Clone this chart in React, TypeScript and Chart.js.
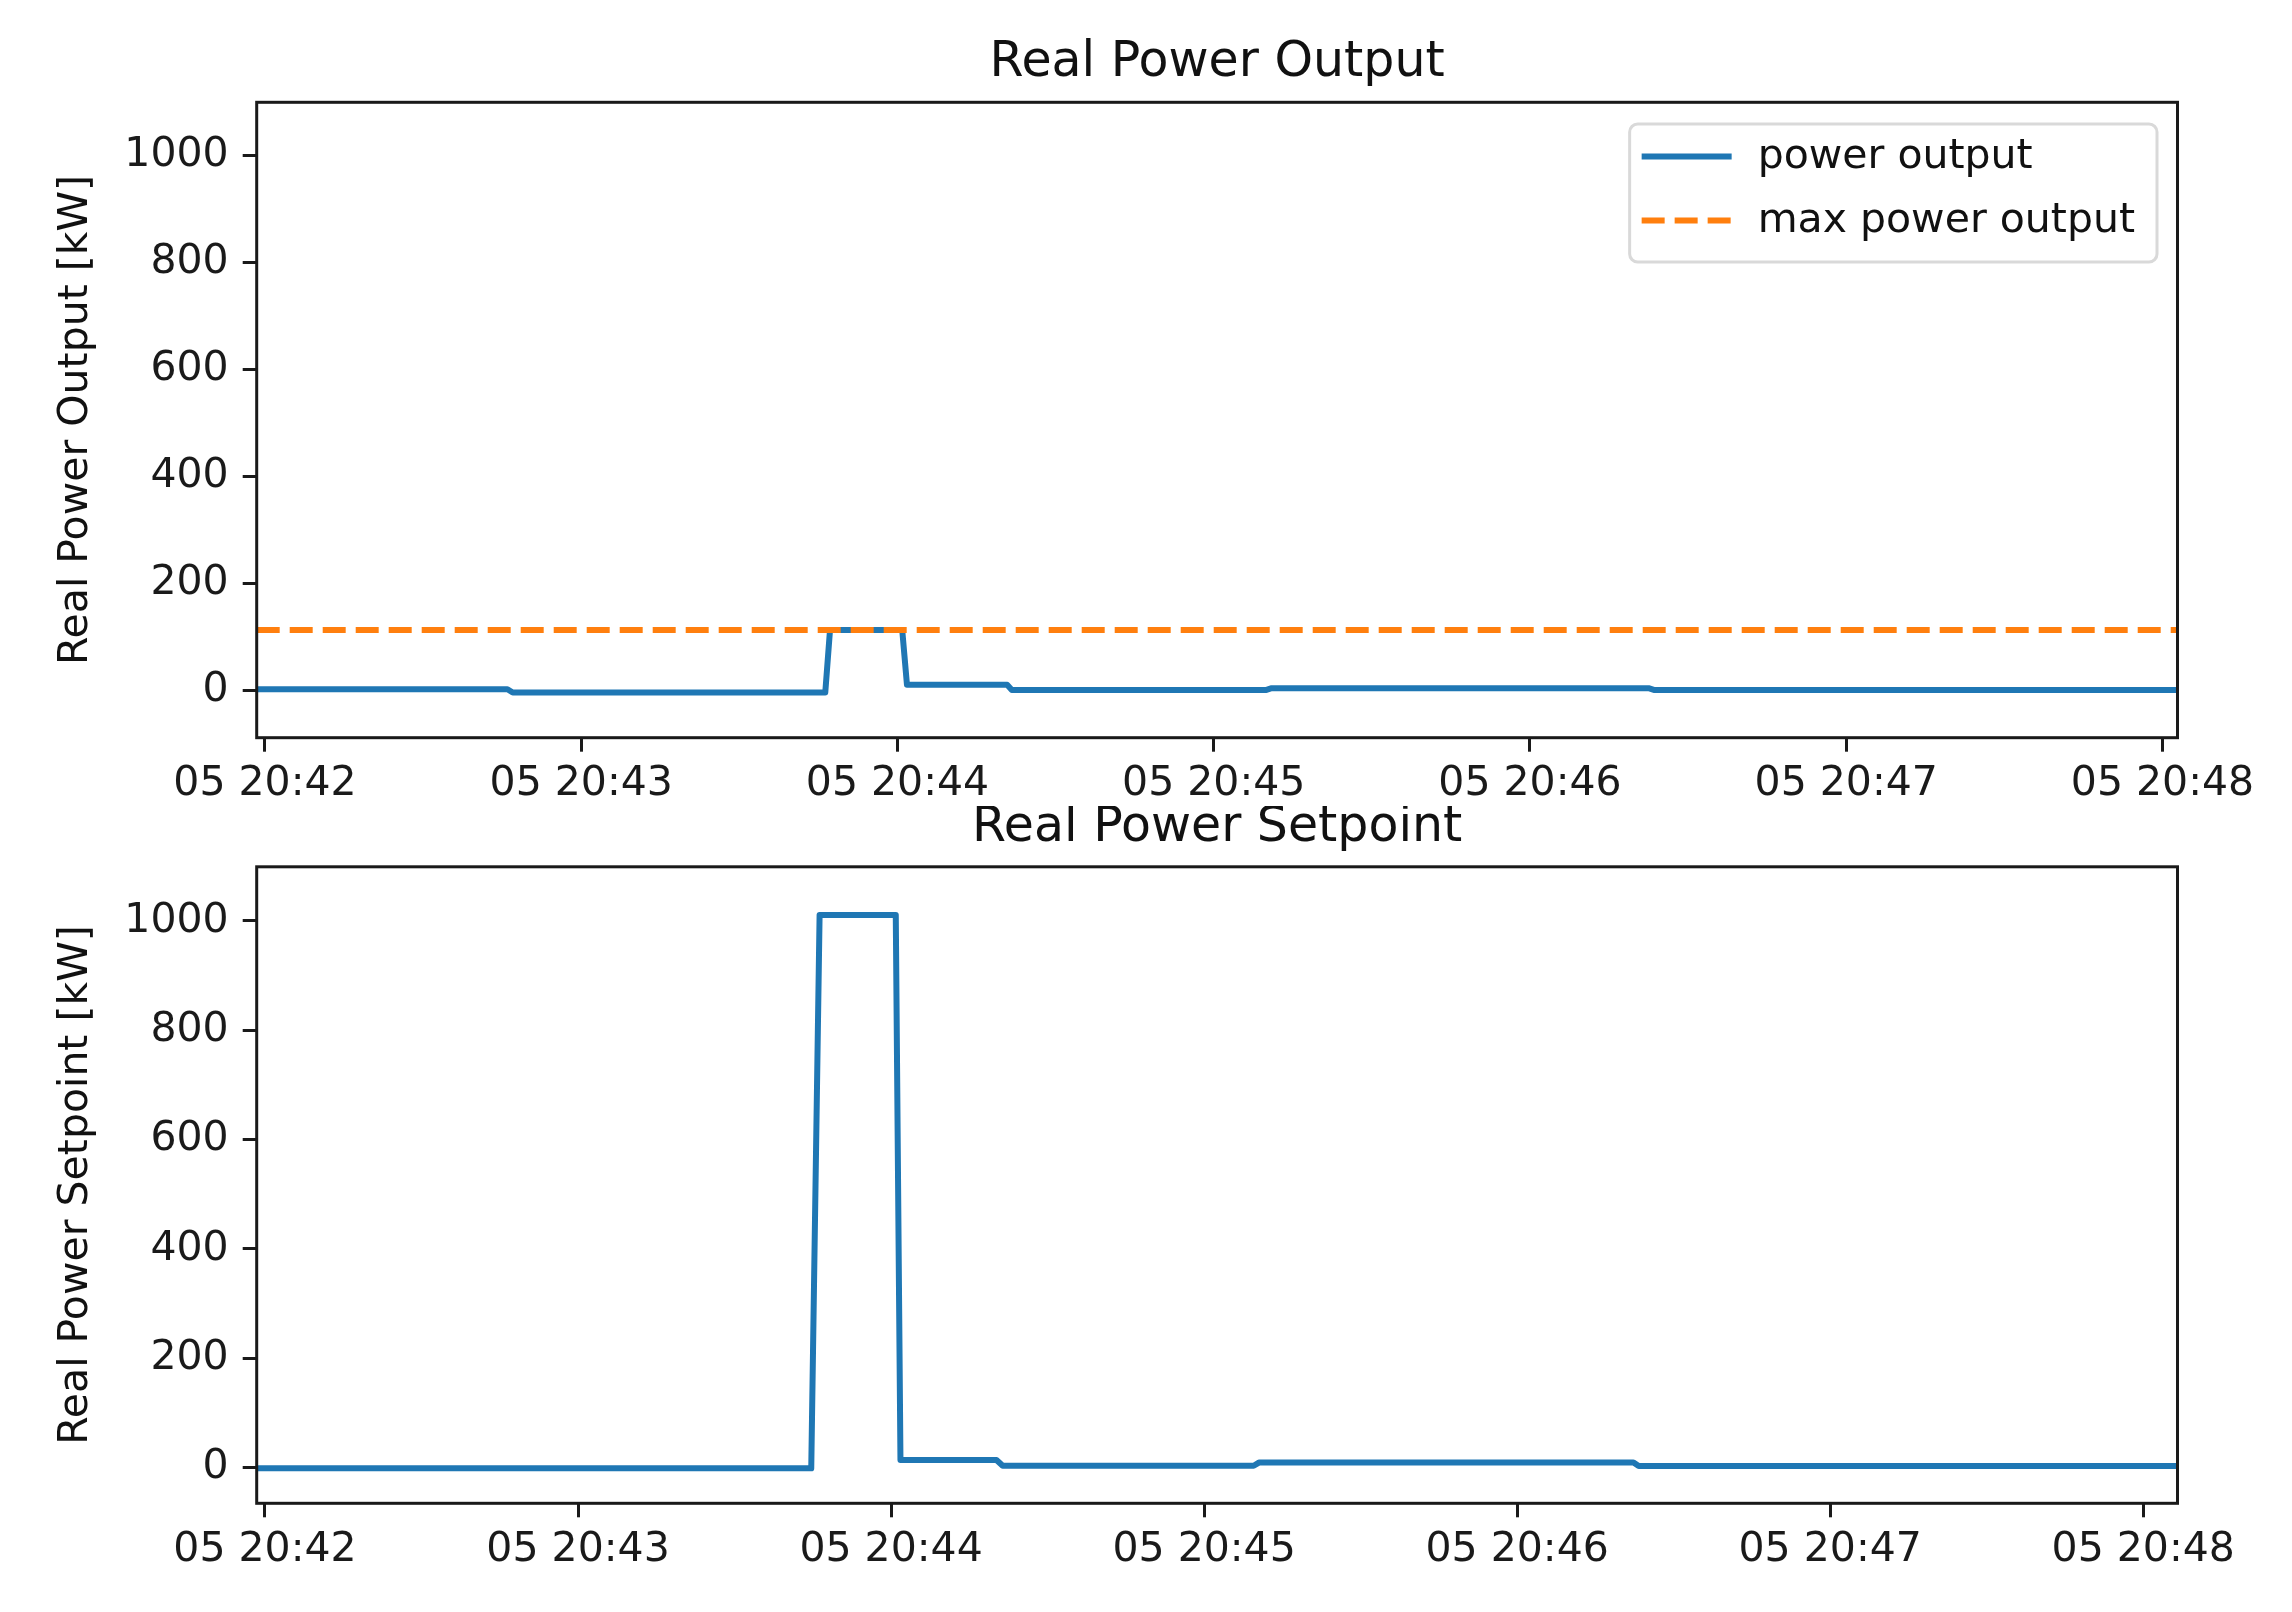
import React, { useEffect, useRef } from "react";
import { Chart, registerables } from "chart.js";

Chart.register(...registerables);

// ---- data ----
const xTickLabels = ["05 20:42", "05 20:43", "05 20:44", "05 20:45", "05 20:46", "05 20:47", "05 20:48"];
const yTickValues = [0, 200, 400, 600, 800, 1000];

const outputTimes = [
  "20:41:58.43", "20:42:46.0", "20:42:47.0", "20:43:46.3", "20:43:47.2", "20:44:00.9", "20:44:01.8",
  "20:44:20.8", "20:44:21.7", "20:45:10.0", "20:45:11.0", "20:46:22.5", "20:46:23.5", "20:48:02.85",
];
const outputValues = [2.6, 2.6, -3.5, -3.5, 113.5, 113.5, 11, 11, 1.3, 1.3, 4.5, 4.5, 1.3, 1.3];

const maxOutputTimes = ["20:41:58.43", "20:48:02.85"];
const maxOutputValues = [113.5, 113.5];

const setpointTimes = [
  "20:41:58.41", "20:43:44.7", "20:43:46.3", "20:44:00.9", "20:44:01.8", "20:44:20.2", "20:44:21.4",
  "20:45:09.5", "20:45:10.5", "20:46:22.3", "20:46:23.3", "20:48:06.57",
];
const setpointValues = [-1.6, -1.6, 1011, 1011, 13.7, 13.7, 3.2, 3.2, 9, 9, 2.7, 2.7];

// ---- helpers ----
const toSec = (t: string) => {
  const [h, m, s] = t.split(":").map(Number);
  return h * 3600 + m * 60 + s;
};
const base = toSec(xTickLabels[0].split(" ")[1] + ":00");
const tickSecs = xTickLabels.map((l) => toSec(l.split(" ")[1] + ":00") - base);
const pts = (times: string[], values: number[]) =>
  times.map((t, i) => ({ x: toSec(t) - base, y: values[i] }));

const FONT = "'DejaVu Sans', 'Liberation Sans', sans-serif";
const INK = "#1a1a1a";
const TICK_SIZE = 41;
const TITLE_SIZE = 49;

const framePlugin = {
  id: "frame",
  afterDraw(chart: any) {
    const { ctx, chartArea: a } = chart;
    ctx.save();
    ctx.strokeStyle = INK;
    ctx.lineWidth = 3;
    ctx.strokeRect(a.left, a.top, a.right - a.left, a.bottom - a.top);
    ctx.restore();
  },
};

const titlePlugin = {
  id: "axTitle",
  afterDraw(chart: any, _args: any, opts: any) {
    const { ctx, chartArea: a } = chart;
    ctx.save();
    ctx.font = `${TITLE_SIZE}px ${FONT}`;
    ctx.fillStyle = "#111";
    ctx.textAlign = "center";
    ctx.textBaseline = "alphabetic";
    ctx.fillText(opts.text, (a.left + a.right) / 2, a.top - opts.gap);
    ctx.restore();
  },
};

const boxLegendPlugin = {
  id: "boxLegend",
  afterDraw(chart: any, _args: any, opts: any) {
    if (!opts.display) return;
    const { ctx, chartArea: a } = chart;
    const ds = chart.data.datasets;
    ctx.save();
    ctx.font = `${TICK_SIZE}px ${FONT}`;
    const textW = Math.max(...ds.map((d: any) => ctx.measureText(d.label).width));
    const w = 128 + textW + 22;
    const h = 138;
    const x = a.right - 20.5 - w;
    const y = a.top + 21.7;
    ctx.beginPath();
    ctx.roundRect(x, y, w, h, 8);
    ctx.fillStyle = "rgba(255,255,255,0.8)";
    ctx.fill();
    ctx.strokeStyle = "#d9d9d9";
    ctx.lineWidth = 3;
    ctx.stroke();
    ds.forEach((d: any, i: number) => {
      const ry = y + 32.5 + i * 64;
      ctx.beginPath();
      ctx.setLineDash(d.borderDash || []);
      ctx.strokeStyle = d.borderColor;
      ctx.lineWidth = d.borderWidth;
      ctx.lineCap = "butt";
      ctx.moveTo(x + 12, ry);
      ctx.lineTo(x + 102, ry);
      ctx.stroke();
      ctx.setLineDash([]);
      ctx.fillStyle = "#111";
      ctx.textAlign = "left";
      ctx.textBaseline = "middle";
      ctx.fillText(d.label, x + 128, ry + 1);
    });
    ctx.restore();
  },
};

function makeConfig(p: {
  datasets: any[];
  yMin: number;
  yMax: number;
  yLabel: string;
  title: string;
  xAxisHeight: number;
  topPad: number;
  legend: boolean;
}) {
  const allX = p.datasets.flatMap((d) => d.data.map((q: any) => q.x));
  return {
    type: "line",
    data: { datasets: p.datasets },
    plugins: [framePlugin, titlePlugin, boxLegendPlugin],
    options: {
      responsive: false,
      animation: false,
      devicePixelRatio: 1,
      events: [],
      layout: { padding: { left: 0, top: p.topPad, right: 114.5, bottom: 0 } },
      plugins: {
        legend: { display: false },
        tooltip: { enabled: false },
        axTitle: { text: p.title, gap: 26 },
        boxLegend: { display: p.legend },
      },
      scales: {
        x: {
          type: "linear",
          min: Math.min(...allX),
          max: Math.max(...allX),
          afterBuildTicks: (s: any) => {
            s.ticks = tickSecs.map((v) => ({ value: v }));
          },
          afterFit: (s: any) => {
            s.height = p.xAxisHeight;
          },
          ticks: {
            callback: (_v: any, i: number) => xTickLabels[i],
            autoSkip: false,
            maxRotation: 0,
            minRotation: 0,
            padding: 8.5,
            color: INK,
            font: { family: FONT, size: TICK_SIZE },
          },
          grid: {
            display: true,
            drawOnChartArea: false,
            drawTicks: true,
            tickLength: 14,
            tickWidth: 3,
            tickColor: INK,
          },
          border: { display: false },
        },
        y: {
          type: "linear",
          min: p.yMin,
          max: p.yMax,
          afterBuildTicks: (s: any) => {
            s.ticks = yTickValues.map((v) => ({ value: v }));
          },
          afterFit: (s: any) => {
            s.width = 256.7;
          },
          ticks: {
            callback: (v: any) => String(v),
            padding: 14,
            color: INK,
            font: { family: FONT, size: TICK_SIZE },
          },
          title: {
            display: true,
            text: p.yLabel,
            color: "#111",
            font: { family: FONT, size: TICK_SIZE },
            padding: { top: 52, bottom: 0 },
          },
          grid: {
            display: true,
            drawOnChartArea: false,
            drawTicks: true,
            tickLength: 14,
            tickWidth: 3,
            tickColor: INK,
          },
          border: { display: false },
        },
      },
    },
  };
}

const lineStyle = {
  pointRadius: 0,
  tension: 0,
  fill: false,
  borderWidth: 6,
  borderJoinStyle: "round",
};

export default function App() {
  const topRef = useRef<HTMLCanvasElement>(null);
  const botRef = useRef<HTMLCanvasElement>(null);

  useEffect(() => {
    const top = new Chart(
      topRef.current as HTMLCanvasElement,
      makeConfig({
        datasets: [
          {
            ...lineStyle,
            label: "power output",
            data: pts(outputTimes, outputValues),
            borderColor: "#1f77b4",
            borderCapStyle: "square",
            order: 1,
          },
          {
            ...lineStyle,
            label: "max power output",
            data: pts(maxOutputTimes, maxOutputValues),
            borderColor: "#ff7f0e",
            borderDash: [23, 10],
            borderCapStyle: "butt",
            order: 0,
          },
        ],
        yMin: -88,
        yMax: 1100,
        yLabel: "Real Power Output [kW]",
        title: "Real Power Output",
        xAxisHeight: 806 - 737.7,
        topPad: 102.3,
        legend: true,
      }) as any
    );
    const bot = new Chart(
      botRef.current as HTMLCanvasElement,
      makeConfig({
        datasets: [
          {
            ...lineStyle,
            label: "setpoint",
            data: pts(setpointTimes, setpointValues),
            borderColor: "#1f77b4",
            borderCapStyle: "square",
          },
        ],
        yMin: -65.5,
        yMax: 1099,
        yLabel: "Real Power Setpoint [kW]",
        title: "Real Power Setpoint",
        xAxisHeight: 806 - 697.3,
        topPad: 60.8,
        legend: false,
      }) as any
    );
    return () => {
      top.destroy();
      bot.destroy();
    };
  }, []);

  return (
    <div style={{ position: "absolute", left: 0, top: 0, width: 2292, height: 1612, background: "#fff" }}>
      <canvas
        ref={topRef}
        width={2292}
        height={806}
        style={{ position: "absolute", left: 0, top: 0, width: 2292, height: 806 }}
      />
      <canvas
        ref={botRef}
        width={2292}
        height={806}
        style={{ position: "absolute", left: 0, top: 806, width: 2292, height: 806 }}
      />
    </div>
  );
}
